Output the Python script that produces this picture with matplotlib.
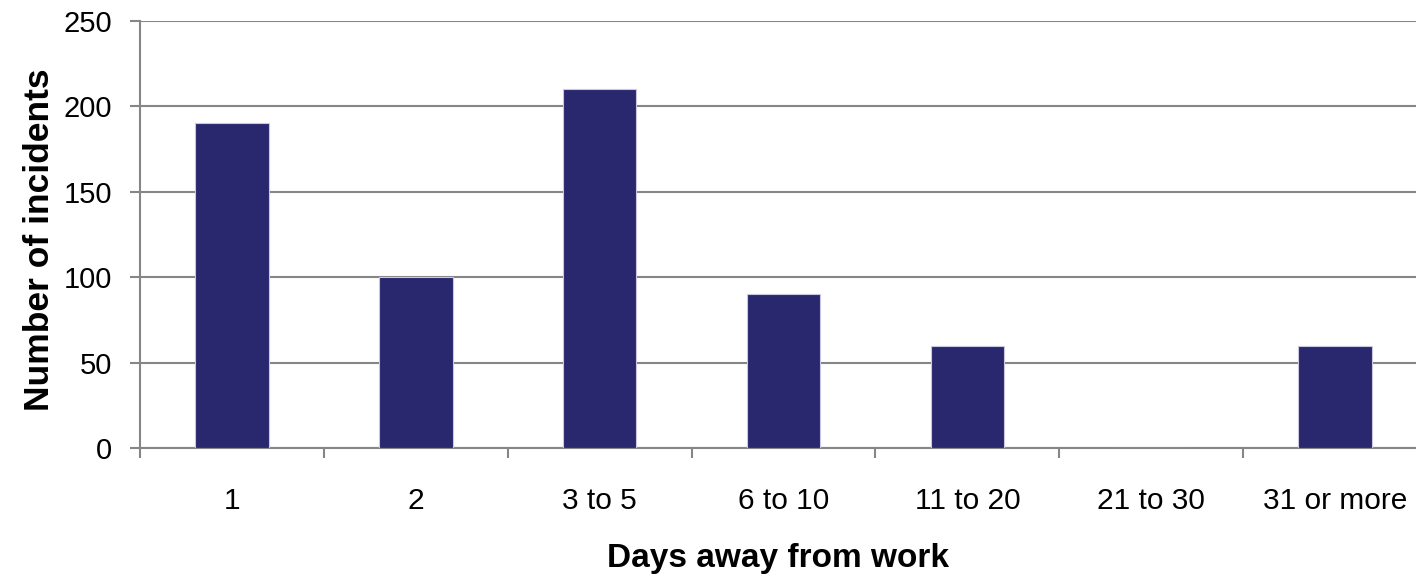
import numpy as np
import matplotlib
matplotlib.use("Agg")
import matplotlib.pyplot as plt

categories = ["1", "2", "3 to 5", "6 to 10", "11 to 20", "21 to 30", "31 or more"]
incidents = [190, 100, 210, 90, 60, 0, 60]

plt.rcParams['font.family'] = ['Liberation Sans', 'DejaVu Sans']

fig = plt.figure(figsize=(14.16, 5.75), dpi=100)
ax = fig.add_axes([140 / 1416, 127 / 575, 1 - 140 / 1416, 427 / 575])

x = np.arange(len(categories))
ax.bar(x, incidents, width=0.4, color='#29286f', edgecolor='#c8c8e0', linewidth=0.8, zorder=3)

ax.set_yticks(np.arange(0, 251, 50))
ax.yaxis.grid(True, color='#868686', linewidth=1.5, zorder=0)

ax.set_xticks(x)
ax.set_xticklabels(categories)
ax.set_xticks(np.arange(-0.5, 6.0, 1), minor=True)
ax.tick_params(axis='x', which='major', length=0, pad=28, labelsize=21.5)
ax.tick_params(axis='x', which='minor', length=7, width=1.5, color='#868686', direction='out')
ax.tick_params(axis='y', length=7, width=1.5, color='#868686', pad=13, labelsize=21)

# limits after ticks so the minor ticks do not widen the view
ax.set_xlim(-0.5, 6.44)
ax.set_ylim(0, 250)

for side in ['top', 'right']:
    ax.spines[side].set_visible(False)
for side in ['left', 'bottom']:
    ax.spines[side].set_color('#868686')
    ax.spines[side].set_linewidth(1.5)

ax.set_xlabel('Days away from work', fontsize=24, fontweight='bold', labelpad=20)
ax.set_ylabel('Number of incidents', fontsize=25.5, fontweight='bold')
ax.yaxis.set_label_coords(-0.066, 0.487)

fig.savefig('out.png', dpi=100)
